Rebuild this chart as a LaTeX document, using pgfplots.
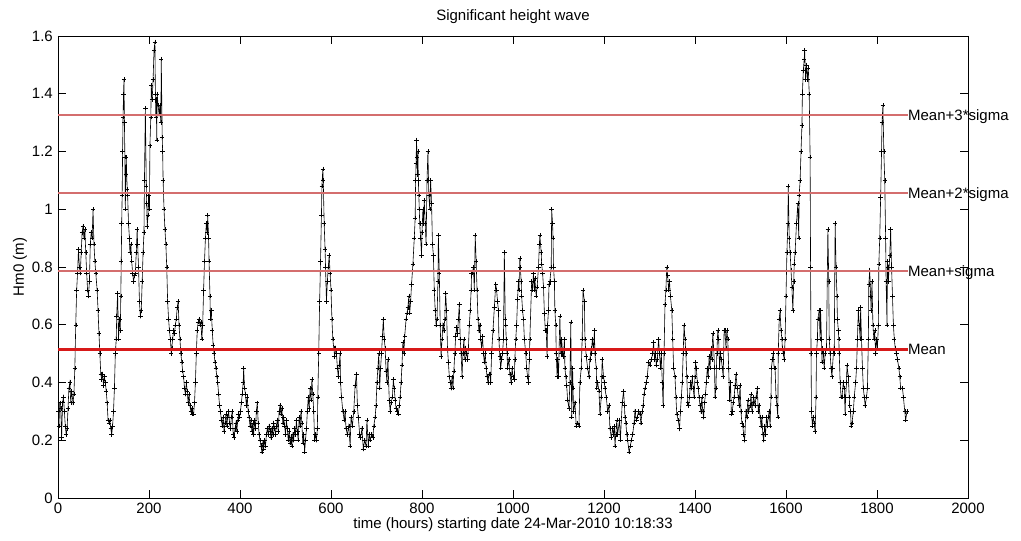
\documentclass[border=0pt]{standalone}
\usepackage{fontspec}
\setmainfont{Liberation Sans}
\usepackage{pgfplots}
\usepackage{pgfplotstable}
\pgfplotsset{compat=1.18}
\definecolor{meanred}{RGB}{215,25,25}
\definecolor{sigred}{RGB}{212,110,110}
\pgfplotstableread{
h v
1 0.30
2 0.25
4 0.33
6 0.31
8 0.21
10 0.33
12 0.35
14 0.30
16 0.25
18 0.22
20 0.24
22 0.31
24 0.38
26 0.40
28 0.33
30 0.37
33 0.33
35 0.36
37 0.45
39 0.60
41 0.72
43 0.78
45 0.86
47 0.80
49 0.78
51 0.85
53 0.92
55 0.94
57 0.90
59 0.93
61 0.85
63 0.78
65 0.72
67 0.70
69 0.75
71 0.88
73 0.92
75 0.90
77 1.00
79 0.88
81 0.82
83 0.78
86 0.72
88 0.65
90 0.57
92 0.50
94 0.43
96 0.41
98 0.43
100 0.39
102 0.42
104 0.40
106 0.37
108 0.33
110 0.27
112 0.26
114 0.27
116 0.24
118 0.22
120 0.25
122 0.30
124 0.38
126 0.50
128 0.55
129 0.63
131 0.71
133 0.55
135 0.62
137 0.58
138 0.70
139 0.82
140 0.95
141 1.05
142 1.20
143 1.32
144 1.40
145 1.45
146 1.30
147 1.18
148 1.00
149 1.12
150 1.18
152 1.07
153 1.05
155 0.95
157 0.90
158 0.85
160 0.88
162 0.82
164 0.78
166 0.75
168 0.77
170 0.78
172 0.85
174 0.93
175 0.88
177 0.80
179 0.68
181 0.63
183 0.65
185 0.75
187 0.85
189 0.92
190 1.10
192 1.35
194 1.08
195 1.02
196 0.94
198 0.98
199 1.05
201 1.00
202 1.22
204 1.32
205 1.43
207 1.38
209 1.45
211 1.55
213 1.58
214 1.40
215 1.32
216 1.38
217 1.24
218 1.40
220 1.36
222 1.33
224 1.36
226 1.30
227 1.52
229 1.25
230 1.20
231 1.10
233 1.00
235 0.93
237 0.88
239 0.80
241 0.68
243 0.62
245 0.58
247 0.55
249 0.50
250 0.52
252 0.55
254 0.58
256 0.57
258 0.60
260 0.62
262 0.66
264 0.68
266 0.60
268 0.55
270 0.50
272 0.47
274 0.44
276 0.42
278 0.38
280 0.36
282 0.40
284 0.37
286 0.33
288 0.36
290 0.32
292 0.30
294 0.31
296 0.29
298 0.29
300 0.33
302 0.40
304 0.50
306 0.58
308 0.61
310 0.62
312 0.60
314 0.61
316 0.55
318 0.60
320 0.72
322 0.82
324 0.90
326 0.95
328 0.92
329 0.98
331 0.90
332 0.82
334 0.70
335 0.62
337 0.65
339 0.58
341 0.53
343 0.50
345 0.47
347 0.45
349 0.42
351 0.40
353 0.36
355 0.32
357 0.30
359 0.27
361 0.25
363 0.28
365 0.23
367 0.26
369 0.29
371 0.25
373 0.28
375 0.30
377 0.26
379 0.24
381 0.28
383 0.30
385 0.22
387 0.21
389 0.24
391 0.26
393 0.23
395 0.27
397 0.29
399 0.28
401 0.30
403 0.33
405 0.36
407 0.40
408 0.45
410 0.38
412 0.36
414 0.32
416 0.35
418 0.30
420 0.28
422 0.25
424 0.27
426 0.23
428 0.26
430 0.22
432 0.27
434 0.24
436 0.30
438 0.33
440 0.26
442 0.22
444 0.20
446 0.18
448 0.16
450 0.19
452 0.17
454 0.20
456 0.18
458 0.22
460 0.24
462 0.22
464 0.25
466 0.23
468 0.21
470 0.24
472 0.22
474 0.26
476 0.24
478 0.22
480 0.25
482 0.27
484 0.23
486 0.30
488 0.32
490 0.29
492 0.31
494 0.26
496 0.28
498 0.25
500 0.22
502 0.27
504 0.24
506 0.20
508 0.23
510 0.19
512 0.21
514 0.18
516 0.22
518 0.20
520 0.24
522 0.22
524 0.27
526 0.23
528 0.20
530 0.28
532 0.25
534 0.30
536 0.26
538 0.19
540 0.22
542 0.16
544 0.20
546 0.24
548 0.30
550 0.35
552 0.31
554 0.38
556 0.34
558 0.41
560 0.36
562 0.30
564 0.20
566 0.22
568 0.20
570 0.24
571 0.35
573 0.50
575 0.68
577 0.82
579 0.98
580 1.08
582 1.14
583 1.10
585 0.95
587 0.86
588 0.80
590 0.68
592 0.75
594 0.80
596 0.84
598 0.78
600 0.72
602 0.62
604 0.55
606 0.52
608 0.49
610 0.52
612 0.50
614 0.45
616 0.42
618 0.46
620 0.50
621 0.40
623 0.35
626 0.30
629 0.27
631 0.30
633 0.24
636 0.22
639 0.25
642 0.18
644 0.28
647 0.25
650 0.30
653 0.39
656 0.43
658 0.32
660 0.28
663 0.22
665 0.21
668 0.24
671 0.17
674 0.20
677 0.18
679 0.27
682 0.18
684 0.22
686 0.20
689 0.22
692 0.21
694 0.25
697 0.28
699 0.32
701 0.40
703 0.45
705 0.50
707 0.38
709 0.45
711 0.50
713 0.56
715 0.62
717 0.55
719 0.52
721 0.44
723 0.40
725 0.48
728 0.34
730 0.30
732 0.33
735 0.35
737 0.41
739 0.38
741 0.34
743 0.31
745 0.30
748 0.29
750 0.32
752 0.35
754 0.40
756 0.46
758 0.54
760 0.50
762 0.56
765 0.62
767 0.64
769 0.66
771 0.70
773 0.64
775 0.68
777 0.74
780 0.81
783 0.90
785 0.97
786 1.10
787 1.16
788 1.24
789 1.18
790 1.12
791 1.20
792 1.10
793 1.05
794 1.00
795 0.95
797 0.90
799 0.84
800 0.92
802 1.00
803 0.95
805 1.03
807 0.95
809 0.88
811 1.10
813 1.20
815 1.05
817 1.00
819 1.10
821 1.02
823 0.88
825 0.84
827 0.72
829 0.65
831 0.60
833 0.62
835 0.75
836 0.91
838 0.78
840 0.60
842 0.49
844 0.55
846 0.60
848 0.58
850 0.62
852 0.71
854 0.65
856 0.52
858 0.47
860 0.42
862 0.40
864 0.38
866 0.42
868 0.38
870 0.44
872 0.50
874 0.56
876 0.59
878 0.57
880 0.62
882 0.67
884 0.55
886 0.50
888 0.42
890 0.50
892 0.55
894 0.48
896 0.52
898 0.50
900 0.48
902 0.52
904 0.60
906 0.65
908 0.72
909 0.78
911 0.78
913 0.80
915 0.72
917 0.91
919 0.82
921 0.72
923 0.62
925 0.58
927 0.60
929 0.55
931 0.52
933 0.56
935 0.50
937 0.47
939 0.50
941 0.45
943 0.42
945 0.40
947 0.43
949 0.43
951 0.40
953 0.50
956 0.58
959 0.66
962 0.74
964 0.72
966 0.68
968 0.65
969 0.55
971 0.49
973 0.45
975 0.48
977 0.50
979 0.55
981 0.85
983 0.62
984 0.60
985 0.55
987 0.50
988 0.45
991 0.48
993 0.43
996 0.40
998 0.45
1000 0.42
1003 0.41
1004 0.48
1006 0.55
1008 0.60
1010 0.69
1012 0.75
1013 0.72
1015 0.83
1016 0.80
1018 0.75
1019 0.70
1021 0.65
1023 0.62
1025 0.55
1028 0.50
1030 0.45
1032 0.42
1034 0.40
1036 0.48
1037 0.55
1041 0.75
1043 0.72
1045 0.78
1047 0.72
1048 0.76
1051 0.70
1053 0.73
1056 0.80
1058 0.88
1059 0.91
1062 0.85
1063 0.81
1065 0.78
1067 0.73
1069 0.64
1071 0.58
1073 0.58
1075 0.49
1076 0.60
1078 0.65
1079 0.74
1081 0.75
1084 0.80
1085 1.00
1087 0.95
1088 0.90
1089 0.80
1091 0.75
1092 0.65
1094 0.60
1095 0.50
1097 0.42
1098 0.48
1100 0.42
1103 0.63
1105 0.50
1107 0.55
1109 0.50
1111 0.49
1113 0.55
1114 0.45
1116 0.42
1118 0.39
1120 0.34
1123 0.31
1125 0.40
1127 0.61
1129 0.28
1131 0.45
1132 0.38
1133 0.30
1136 0.33
1139 0.25
1142 0.26
1145 0.25
1147 0.40
1150 0.45
1152 0.55
1154 0.72
1157 0.68
1158 0.55
1161 0.49
1164 0.45
1167 0.42
1169 0.48
1172 0.52
1173 0.50
1174 0.55
1177 0.52
1179 0.58
1180 0.50
1183 0.45
1184 0.38
1186 0.40
1189 0.37
1191 0.29
1194 0.35
1195 0.42
1196 0.48
1199 0.42
1201 0.40
1202 0.38
1205 0.35
1208 0.30
1211 0.32
1213 0.24
1216 0.21
1219 0.24
1221 0.22
1223 0.25
1224 0.18
1226 0.22
1228 0.27
1230 0.22
1234 0.27
1236 0.20
1240 0.33
1243 0.37
1245 0.32
1246 0.28
1248 0.26
1250 0.22
1252 0.20
1255 0.16
1258 0.18
1260 0.20
1263 0.22
1266 0.26
1268 0.30
1271 0.27
1273 0.28
1276 0.30
1279 0.29
1281 0.26
1284 0.30
1286 0.32
1288 0.36
1290 0.38
1293 0.40
1295 0.42
1298 0.47
1301 0.46
1304 0.48
1307 0.50
1309 0.54
1311 0.48
1313 0.50
1315 0.46
1317 0.48
1320 0.55
1322 0.50
1324 0.45
1326 0.50
1328 0.40
1330 0.32
1332 0.50
1334 0.67
1336 0.72
1338 0.80
1340 0.77
1342 0.72
1344 0.75
1346 0.70
1349 0.65
1351 0.55
1353 0.45
1356 0.42
1358 0.35
1360 0.29
1363 0.27
1366 0.24
1368 0.30
1370 0.35
1372 0.40
1374 0.50
1376 0.60
1378 0.55
1380 0.50
1382 0.42
1384 0.33
1386 0.32
1388 0.35
1390 0.40
1392 0.38
1394 0.42
1396 0.38
1398 0.35
1400 0.42
1401 0.47
1403 0.45
1405 0.40
1407 0.38
1409 0.35
1411 0.32
1413 0.30
1415 0.35
1417 0.30
1419 0.28
1421 0.33
1423 0.36
1425 0.40
1427 0.45
1429 0.42
1431 0.49
1433 0.45
1435 0.52
1437 0.48
1439 0.57
1441 0.52
1443 0.45
1444 0.35
1446 0.38
1448 0.50
1450 0.58
1452 0.55
1454 0.45
1456 0.50
1458 0.48
1460 0.45
1462 0.42
1464 0.58
1466 0.58
1468 0.52
1470 0.58
1472 0.55
1474 0.45
1476 0.34
1478 0.40
1480 0.29
1482 0.30
1484 0.33
1486 0.35
1488 0.39
1490 0.43
1493 0.38
1495 0.35
1497 0.32
1499 0.39
1501 0.30
1503 0.26
1505 0.25
1507 0.22
1509 0.20
1512 0.30
1514 0.28
1516 0.34
1518 0.30
1521 0.32
1523 0.36
1525 0.30
1527 0.33
1529 0.35
1532 0.32
1534 0.35
1537 0.38
1539 0.30
1541 0.32
1543 0.28
1545 0.25
1547 0.28
1549 0.22
1551 0.20
1553 0.25
1555 0.22
1557 0.28
1559 0.25
1561 0.28
1563 0.30
1565 0.25
1567 0.35
1568 0.45
1570 0.48
1572 0.50
1574 0.45
1576 0.45
1578 0.35
1580 0.32
1582 0.28
1583 0.50
1585 0.62
1587 0.65
1589 0.58
1591 0.55
1592 0.52
1594 0.50
1596 0.48
1598 0.55
1600 0.70
1602 0.85
1604 0.95
1605 1.08
1607 0.90
1609 0.85
1611 0.79
1613 0.73
1615 0.65
1617 0.75
1618 0.81
1620 0.85
1623 0.95
1626 1.02
1628 0.90
1629 1.05
1631 1.10
1633 1.20
1635 1.29
1636 1.40
1638 1.48
1640 1.52
1641 1.55
1643 1.45
1645 1.50
1647 1.45
1649 1.49
1651 1.40
1653 1.18
1654 0.80
1655 0.50
1656 0.30
1658 0.25
1660 0.28
1662 0.26
1664 0.23
1666 0.35
1667 0.50
1669 0.55
1670 0.62
1673 0.65
1675 0.55
1676 0.65
1678 0.55
1679 0.47
1680 0.52
1682 0.50
1684 0.45
1686 0.50
1689 0.52
1692 0.93
1694 0.75
1695 0.55
1697 0.50
1699 0.45
1701 0.42
1702 0.45
1705 0.52
1706 0.50
1708 0.95
1710 0.80
1712 0.70
1713 0.62
1715 0.58
1716 0.55
1717 0.50
1719 0.40
1721 0.35
1723 0.35
1726 0.40
1728 0.38
1730 0.29
1731 0.35
1733 0.40
1734 0.46
1737 0.42
1739 0.35
1740 0.32
1742 0.30
1743 0.25
1745 0.26
1748 0.30
1750 0.35
1753 0.40
1755 0.45
1757 0.55
1759 0.65
1761 0.60
1763 0.55
1764 0.66
1766 0.55
1768 0.45
1770 0.38
1772 0.35
1774 0.32
1777 0.35
1779 0.38
1781 0.55
1782 0.74
1784 0.79
1786 0.70
1787 0.65
1789 0.75
1791 0.60
1793 0.55
1795 0.58
1797 0.50
1799 0.55
1801 0.52
1803 0.60
1804 0.81
1806 0.90
1808 1.04
1810 1.20
1811 1.30
1813 1.36
1815 1.20
1817 1.10
1819 0.90
1820 0.75
1822 0.60
1823 0.82
1824 0.80
1825 0.75
1828 0.84
1830 0.93
1832 0.80
1834 0.70
1836 0.60
1838 0.55
1840 0.52
1843 0.50
1845 0.48
1848 0.45
1850 0.42
1852 0.38
1856 0.38
1858 0.35
1861 0.30
1863 0.27
1866 0.30
}\hmdata
\begin{document}
\fontsize{15}{18}\selectfont
\begin{tikzpicture}
\useasboundingbox (0,0) rectangle (1021pt,541pt);
\begin{axis}[
  at={(58pt,43pt)}, anchor=south west,
  scale only axis, width=910pt, height=462pt,
  xmin=0, xmax=2000, ymin=0, ymax=1.6,
  clip mode=individual,
  xtick={0,200,400,600,800,1000,1200,1400,1600,1800,2000},
  ytick={0,0.2,0.4,0.6,0.8,1,1.2,1.4,1.6},
  tick align=inside, major tick length=8pt,
  tick style={black, line width=0.6pt},
  axis line style={black, line width=0.8pt},
  /pgf/number format/assume math mode=true,
  /pgf/number format/1000 sep={},
  title={Significant height wave},
  every axis title/.style={at={(0.5,1)}, anchor=base, yshift=15pt},
  xlabel={time (hours) starting date 24-Mar-2010 10:18:33},
  every axis x label/.style={at={(axis description cs:0.5,-0.067)}, anchor=base},
  ylabel={Hm0 (m)},
  every axis y label/.style={at={(axis description cs:-0.0374,0.5)}, rotate=90, anchor=base},
]
\addplot[color=black, line width=0.6pt, mark=+, mark size=2.2pt, mark options={line width=0.45pt}] table[x=h, y=v] {\hmdata};
\addplot[draw=meanred, line width=2.6pt, no markers] coordinates {(0,0.515) (1868,0.515)};
\addplot[draw=sigred, line width=2pt, no markers] coordinates {(0,0.785) (1868,0.785)};
\addplot[draw=sigred, line width=2pt, no markers] coordinates {(0,1.055) (1868,1.055)};
\addplot[draw=sigred, line width=2pt, no markers] coordinates {(0,1.325) (1868,1.325)};
\node[anchor=base west, inner sep=0pt, yshift=-5.4pt] at (axis cs:1868,0.515) {Mean};
\node[anchor=base west, inner sep=0pt, yshift=-5.4pt] at (axis cs:1868,0.785) {Mean+sigma};
\node[anchor=base west, inner sep=0pt, yshift=-5.4pt] at (axis cs:1868,1.055) {Mean+2*sigma};
\node[anchor=base west, inner sep=0pt, yshift=-5.4pt] at (axis cs:1868,1.325) {Mean+3*sigma};
\end{axis}
\end{tikzpicture}
\end{document}
